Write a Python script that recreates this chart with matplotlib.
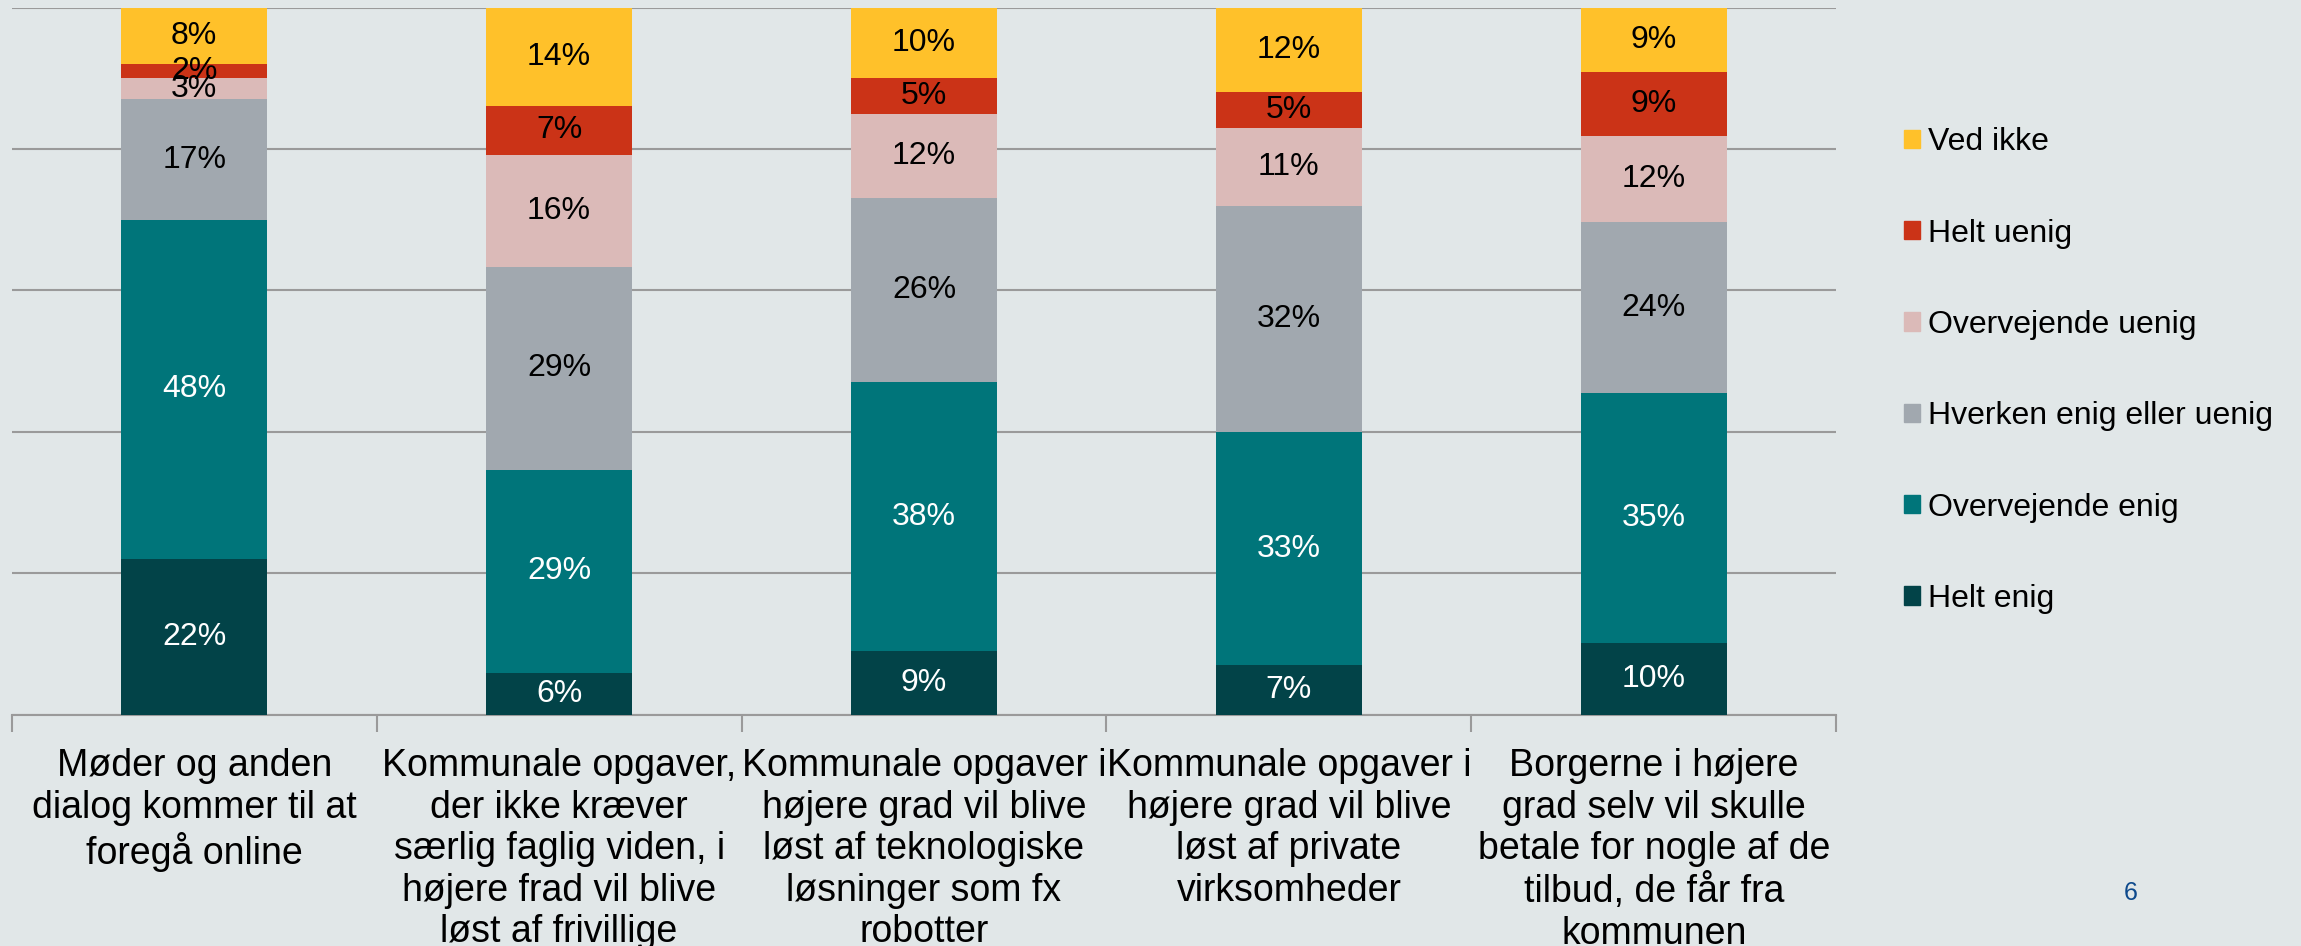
import numpy as np
import matplotlib
matplotlib.use("Agg")
import matplotlib.pyplot as plt
from matplotlib.patches import Patch

plt.rcParams['font.family'] = ['Liberation Sans', 'DejaVu Sans']

categories = [
    "Møder og anden\ndialog kommer til at\nforegå online",
    "Kommunale opgaver,\nder ikke kræver\nsærlig faglig viden, i\nhøjere frad vil blive\nløst af frivillige",
    "Kommunale opgaver i\nhøjere grad vil blive\nløst af teknologiske\nløsninger som fx\nrobotter",
    "Kommunale opgaver i\nhøjere grad vil blive\nløst af private\nvirksomheder",
    "Borgerne i højere\ngrad selv vil skulle\nbetale for nogle af de\ntilbud, de får fra\nkommunen",
]
series = ["Helt enig", "Overvejende enig", "Hverken enig eller uenig",
          "Overvejende uenig", "Helt uenig", "Ved ikke"]
helt_enig = [22, 6, 9, 7, 10]
overvejende_enig = [48, 29, 38, 33, 35]
hverken = [17, 29, 26, 32, 24]
overvejende_uenig = [3, 16, 12, 11, 12]
helt_uenig = [2, 7, 5, 5, 9]
ved_ikke = [8, 14, 10, 12, 9]

colors = ["#024348", "#00757a", "#a1a8af", "#dbbab8", "#cb3317", "#ffc12a"]
text_colors = ["white", "white", "black", "black", "black", "black"]
bg = "#e1e7e8"

data = np.array([helt_enig, overvejende_enig, hverken,
                 overvejende_uenig, helt_uenig, ved_ikke], dtype=float)
share = data / data.sum(axis=0)

fig = plt.figure(figsize=(23.01, 9.46), dpi=100, facecolor=bg)
ax = fig.add_axes([0.0051, 0.2445, 0.7929, 0.7475])
ax.set_facecolor(bg)

x = np.arange(len(categories))
bottom = np.zeros(len(categories))
for i, name in enumerate(series):
    bars = ax.bar(x, share[i], 0.4, bottom=bottom, color=colors[i],
                  label=name, zorder=3)
    for j, b in enumerate(bars):
        ax.text(b.get_x() + b.get_width() / 2, bottom[j] + share[i][j] / 2,
                f"{int(data[i][j])}%", ha="center", va="center",
                color=text_colors[i], fontsize=23, zorder=4)
    bottom += share[i]

ax.set_xlim(-0.5, len(categories) - 0.5)
ax.set_ylim(0, 1)
ax.set_yticks(np.arange(0, 1.01, 0.2))
ax.yaxis.grid(True, color="#9a9a9a", linewidth=1.5, zorder=0)
ax.tick_params(axis="y", left=False, labelleft=False)
for s in ["left", "right", "top"]:
    ax.spines[s].set_visible(False)
ax.spines["bottom"].set_color("#9a9a9a")
ax.spines["bottom"].set_linewidth(1.5)

ax.set_xticks(np.arange(-0.5, len(categories)), minor=False)
ax.set_xticklabels([])
ax.tick_params(axis="x", which="major", length=12, width=1.5, color="#9a9a9a")
ax.set_xticks(x, minor=True)
ax.set_xticklabels(categories, minor=True, fontsize=27, linespacing=1.2)
ax.tick_params(axis="x", which="minor", length=0, pad=24)

handles = [Patch(color=colors[i], label=series[i]) for i in range(len(series))][::-1]
fig.legend(handles=handles, loc="upper left", bbox_to_anchor=(0.822, 0.879),
           frameon=False, fontsize=23, handlelength=0.5, handleheight=0.5,
           handletextpad=0.25, labelspacing=1.92, borderaxespad=0)

fig.text(0.9261, 0.056, "6", color="#0e4a8c", fontsize=18, ha="center", va="center")

fig.savefig("out.png", dpi=100, facecolor=bg)
